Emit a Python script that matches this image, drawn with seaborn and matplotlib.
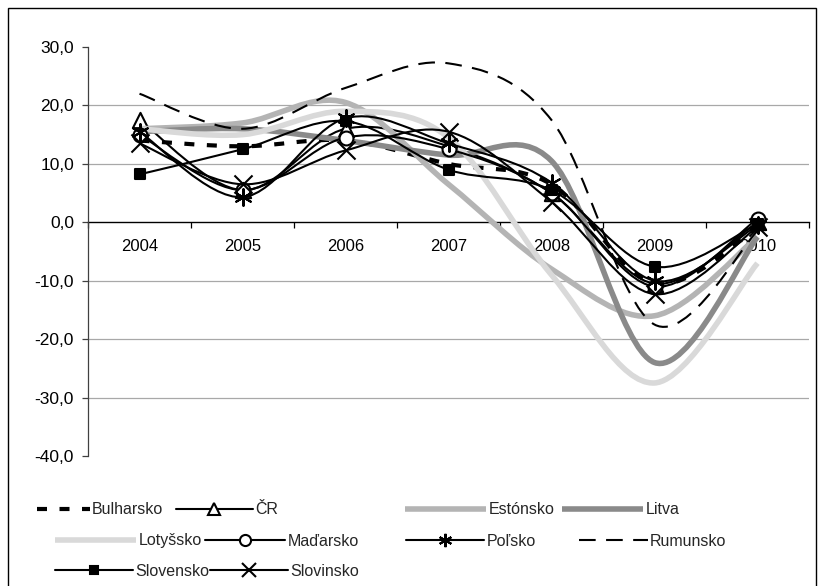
import numpy as np
import matplotlib
matplotlib.use("Agg")
import matplotlib.pyplot as plt
import seaborn as sns
from matplotlib.path import Path
from matplotlib.patches import PathPatch, Rectangle
from matplotlib.lines import Line2D
from matplotlib.ticker import FixedLocator, FuncFormatter

# ---------------- data ----------------
years = ["2004", "2005", "2006", "2007", "2008", "2009", "2010"]
series_names = ["Bulharsko", "ČR", "Estónsko", "Litva", "Lotyšsko",
                "Maďarsko", "Poľsko", "Rumunsko", "Slovensko", "Slovinsko"]
bulharsko = [14.0, 13.0, 14.0, 10.0, 6.5, -10.5, -1.0]
cr = [17.5, 5.5, 16.0, 13.0, 5.0, -10.5, 0.0]
estonsko = [16.0, 17.0, 20.5, 6.5, -8.0, -16.0, -2.5]
litva = [15.5, 16.0, 14.0, 11.5, 10.5, -24.0, -2.5]
lotyssko = [16.0, 15.0, 19.0, 14.5, -9.0, -27.5, -7.0]
madarsko = [15.0, 5.5, 14.5, 12.5, 5.0, -11.0, 0.6]
polsko = [15.5, 4.3, 17.8, 13.5, 6.8, -10.0, -0.5]
rumunsko = [22.0, 16.0, 23.0, 27.2, 17.5, -17.5, -1.5]
slovensko = [8.2, 12.5, 17.3, 9.0, 5.5, -7.6, -0.3]
slovinsko = [13.5, 6.5, 12.3, 15.5, 3.5, -12.3, -0.8]
y_ticks = [-40, -30, -20, -10, 0, 10, 20, 30]

values = [bulharsko, cr, estonsko, litva, lotyssko, madarsko, polsko,
          rumunsko, slovensko, slovinsko]

# ---------------- styles ----------------
styles = {
    "Bulharsko": dict(color="black", lw=3.0, ls=(0, (2.4, 3.0)), marker=None),
    "ČR": dict(color="black", lw=1.5, ls="-", marker="^", ms=11, fill="white"),
    "Estónsko": dict(color="#b4b4b4", lw=4.0, ls="-", marker=None),
    "Litva": dict(color="#8a8a8a", lw=4.0, ls="-", marker=None),
    "Lotyšsko": dict(color="#d9d9d9", lw=4.0, ls="-", marker=None),
    "Maďarsko": dict(color="black", lw=1.5, ls="-", marker="o", ms=10, fill="white"),
    "Poľsko": dict(color="black", lw=1.5, ls="-", marker=(6, 2, 0), ms=12, fill=None),
    "Rumunsko": dict(color="black", lw=1.5, ls=(0, (8, 5)), marker=None),
    "Slovensko": dict(color="black", lw=1.5, ls="-", marker="s", ms=7, fill="black"),
    "Slovinsko": dict(color="black", lw=1.5, ls="-", marker="x", ms=13, fill=None),
}

W, H = 821, 586
sns.set_theme(style="white")
plt.rcParams["font.family"] = ["Liberation Sans", "DejaVu Sans"]

fig = plt.figure(figsize=(W / 100, H / 100), dpi=100)
ax = fig.add_axes([88 / W, 1 - 456 / H, (809 - 88) / W, (456 - 47) / H])

xpos = np.arange(len(years))


def smooth_path(xs, ys):
    pts = np.column_stack([xs, ys]).astype(float)
    n = len(pts)
    verts = [pts[0]]
    codes = [Path.MOVETO]
    for i in range(n - 1):
        p0 = pts[max(i - 1, 0)]
        p1 = pts[i]
        p2 = pts[i + 1]
        p3 = pts[min(i + 2, n - 1)]
        c1 = p1 + (p2 - p0) / 6.0
        c2 = p2 - (p3 - p1) / 6.0
        verts += [c1, c2, p2]
        codes += [Path.CURVE4] * 3
    return Path(verts, codes)


for k, (name, vals) in enumerate(zip(series_names, values)):
    st = styles[name]
    patch = PathPatch(smooth_path(xpos, vals), fill=False, edgecolor=st["color"],
                      lw=st["lw"], linestyle=st["ls"], capstyle="butt",
                      joinstyle="round", zorder=3 + k * 0.1)
    ax.add_patch(patch)
    if st["marker"] is not None:
        face = st["fill"] if st["fill"] is not None else "black"
        sns.scatterplot(x=xpos, y=vals, marker=st["marker"], s=st["ms"] ** 2,
                        color=face, edgecolor="black", linewidth=1.5,
                        ax=ax, zorder=3.05 + k * 0.1, legend=False)

# ---------------- axes ----------------
ax.set_xlim(-0.5, len(years) - 0.5)
ax.set_ylim(-40, 30)
ax.set_xlabel("")
ax.set_ylabel("")
for s in ["top", "right"]:
    ax.spines[s].set_visible(False)
ax.spines["bottom"].set_position(("data", 0))
ax.spines["bottom"].set_color("black")
ax.spines["bottom"].set_linewidth(1.0)
ax.spines["bottom"].set_zorder(2)
ax.spines["left"].set_color("#404040")
ax.spines["left"].set_linewidth(0.9)

ax.yaxis.set_major_locator(FixedLocator(y_ticks))
ax.yaxis.set_major_formatter(FuncFormatter(lambda v, p: f"{v:.1f}".replace(".", ",")))
ax.tick_params(axis="y", which="major", left=True, length=4, width=0.9,
               color="#404040", pad=6, labelsize=12.5, labelcolor="black")
for v in y_ticks[1:-1]:
    if v != 0:
        ax.axhline(v, color="#a8a8a8", lw=0.9, zorder=1)

ax.set_xticks(xpos)
ax.set_xticklabels(years)
ax.set_xticks(np.arange(-0.5, len(years)), minor=True)
ax.tick_params(axis="x", which="major", bottom=True, length=0, pad=12,
               labelsize=12, labelcolor="black")
ax.tick_params(axis="x", which="minor", bottom=True, length=4, width=0.9,
               color="black")
ax.grid(False)

# ---------------- legend (Excel-like placement) ----------------
leg_pos = {
    "Bulharsko": (37, 510, 3.3),
    "ČR": (176, 510, 4.8),
    "Estónsko": (405, 510, 5.1),
    "Litva": (562, 510, 5.1),
    "Lotyšsko": (55, 541, 5.1),
    "Maďarsko": (205, 541, 5.0),
    "Poľsko": (406, 541, 4.9),
    "Rumunsko": (579, 541, 4.3),
    "Slovensko": (55, 571, 4.9),
    "Slovinsko": (210, 571, 4.9),
}
for name in series_names:
    st = styles[name]
    x0, yc, hl = leg_pos[name]
    if st["marker"] is not None:
        mfc = st["fill"] if st["fill"] is not None else "black"
        h = Line2D([], [], color=st["color"], lw=st["lw"], ls=st["ls"],
                   marker=st["marker"], markersize=st["ms"] * 0.8,
                   markerfacecolor=mfc, markeredgecolor="black", markeredgewidth=1.5)
    else:
        h = Line2D([], [], color=st["color"], lw=st["lw"], ls=st["ls"],
                   solid_capstyle="butt", dash_capstyle="butt")
    fig.legend(handles=[h], labels=[name], loc="center left",
               bbox_to_anchor=(x0 / W, 1 - yc / H), frameon=False,
               borderpad=0, borderaxespad=0, handlelength=hl,
               handletextpad=0.15, fontsize=11.5, numpoints=1)

# outer chart border
fig.patches.append(Rectangle((8 / W, -0.05), (816 - 8) / W, 1.05 - 8 / H,
                             transform=fig.transFigure, fill=False,
                             edgecolor="black", lw=1.0))

fig.savefig("out.png", dpi=100)
